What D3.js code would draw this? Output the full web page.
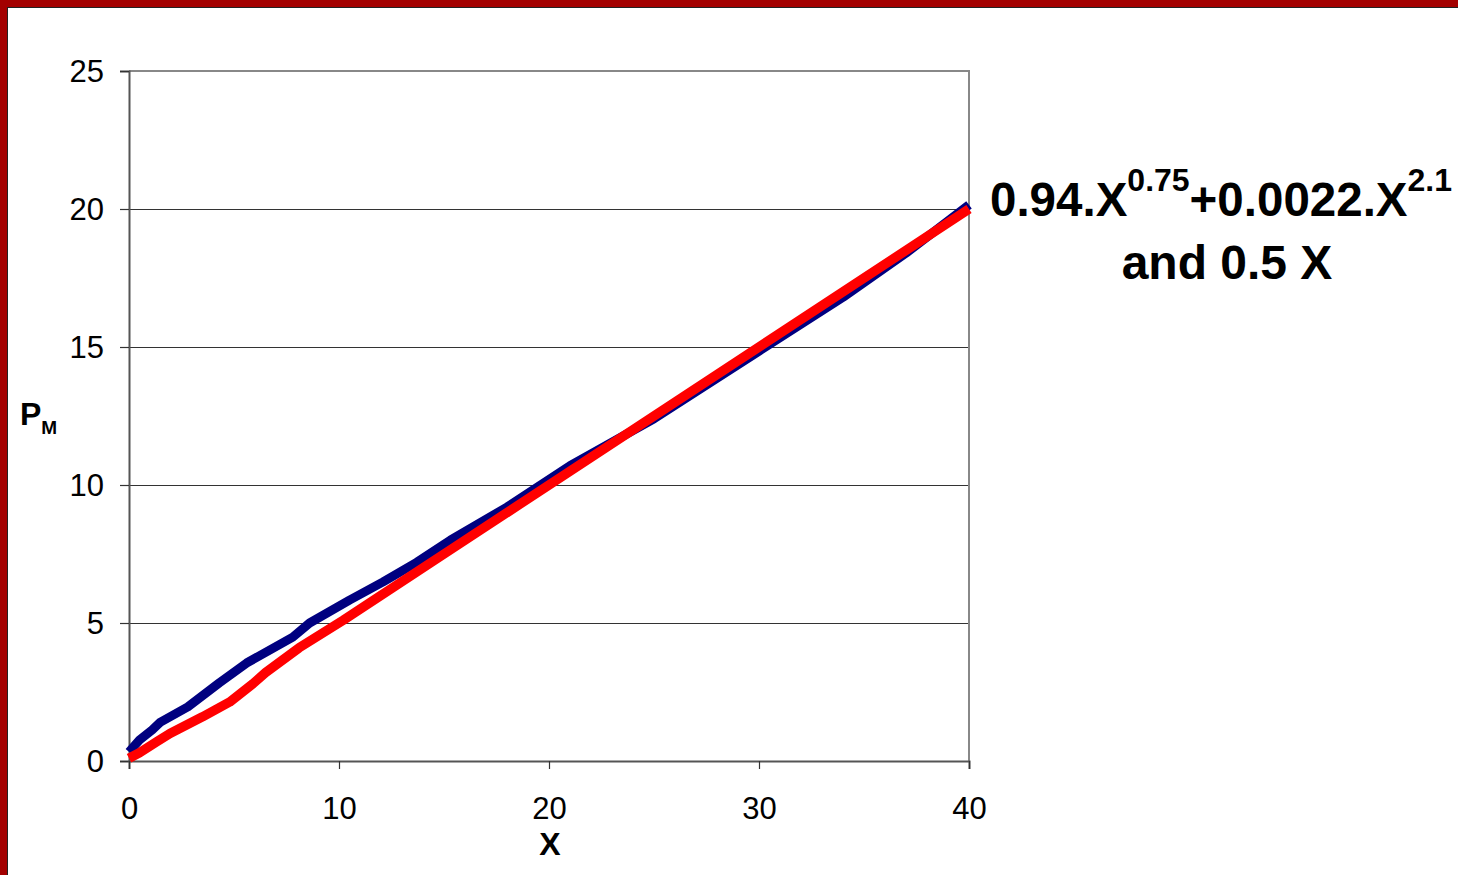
<!DOCTYPE html>
<html>
<head>
<meta charset="utf-8">
<script src="https://cdn.jsdelivr.net/npm/d3@7"></script>
<style>
  html, body { margin: 0; padding: 0; background: #fff; }
  svg { display: block; }
  text { font-family: "Liberation Sans", Arial, sans-serif; fill: #000; }
</style>
</head>
<body>
<svg id="chart" width="1458" height="875"></svg>
<script>
// Power-law model curve (blue)
const modelX = [0, 0.5, 1.1, 1.5, 2.8, 4.3, 5.6, 7.8, 8.6, 10.5, 12.1, 13.7, 15.3, 18, 21, 25, 30, 34, 37, 40];
const modelY = [0.33, 0.76, 1.12, 1.41, 1.96, 2.83, 3.55, 4.49, 5.0, 5.83, 6.49, 7.2, 8.0, 9.2, 10.7, 12.4, 14.85, 16.8, 18.4, 20.15];

// Linear curve 0.5 X (red)
const linearX = [0, 0.5, 1.3, 1.95, 3.5, 4.8, 5.9, 6.5, 8.1, 10.2, 12.1, 15.3, 20, 25, 30, 35, 40];
const linearY = [0.1, 0.3, 0.69, 1.0, 1.6, 2.14, 2.8, 3.2, 4.1, 5.1, 6.05, 7.65, 10, 12.5, 15, 17.5, 20];

const xTicks = [0, 10, 20, 30, 40];
const yTicks = [0, 5, 10, 15, 20, 25];

const svg = d3.select("#chart");
const W = 1458, H = 875;

// Slide frame: dark red bars along top and left
svg.append("rect").attr("x", 0).attr("y", 0).attr("width", W).attr("height", 7).attr("fill", "#a30000");
svg.append("rect").attr("x", 0).attr("y", 0).attr("width", 7).attr("height", H).attr("fill", "#a30000");
svg.append("line").attr("x1", 7).attr("x2", W).attr("y1", 7.5).attr("y2", 7.5).attr("stroke", "#222").attr("stroke-width", 1);
svg.append("line").attr("x1", 7.5).attr("x2", 7.5).attr("y1", 7).attr("y2", H).attr("stroke", "#222").attr("stroke-width", 1);

const plot = { left: 129, top: 71, right: 969, bottom: 761 };
const x = d3.scaleLinear().domain([0, 40]).range([plot.left, plot.right]);
const y = d3.scaleLinear().domain([0, 25]).range([plot.bottom, plot.top]);

// Horizontal gridlines
svg.append("g")
  .selectAll("line")
  .data(yTicks.filter(d => d > 0 && d < 25))
  .join("line")
  .attr("x1", plot.left).attr("x2", plot.right)
  .attr("y1", d => Math.round(y(d)) + 0.5).attr("y2", d => Math.round(y(d)) + 0.5)
  .attr("stroke", "#333").attr("stroke-width", 1.2);

// Plot frame (top and right edges)
svg.append("path")
  .attr("d", `M${plot.left},${plot.top}H${plot.right}V${plot.bottom}`)
  .attr("fill", "none").attr("stroke", "#888").attr("stroke-width", 2);

// Axes
const yAxis = d3.axisLeft(y).tickValues(yTicks).tickSize(9).tickPadding(16).tickFormat(d3.format("d"));
const xAxis = d3.axisBottom(x).tickValues(xTicks).tickSize(8).tickPadding(28).tickFormat(d3.format("d"));

const gy = svg.append("g").attr("transform", `translate(${plot.left},0)`).call(yAxis);
const gx = svg.append("g").attr("transform", `translate(0,${plot.bottom})`).call(xAxis);

[gx, gy].forEach(g => {
  g.select(".domain").attr("stroke", "#555").attr("stroke-width", 2);
  g.selectAll(".tick line").attr("stroke", "#333").attr("stroke-width", 1.2);
  g.selectAll(".tick text")
    .attr("font-family", "Liberation Sans, Arial, sans-serif")
    .attr("font-size", 31).attr("fill", "#000");
});
gy.selectAll(".tick text").attr("dy", "0.33em");

// Curves
const line = d3.line().x(d => x(d[0])).y(d => y(d[1])).curve(d3.curveLinear);
const modelPts = modelX.map((v, i) => [v, modelY[i]]);
const linearPts = linearX.map((v, i) => [v, linearY[i]]);

svg.append("path").datum(modelPts).attr("d", line)
  .attr("fill", "none").attr("stroke", "#000080").attr("stroke-width", 9)
  .attr("stroke-linejoin", "round");
svg.append("path").datum(linearPts).attr("d", line)
  .attr("fill", "none").attr("stroke", "#ff0000").attr("stroke-width", 9.5)
  .attr("stroke-linejoin", "round");

// Axis titles
svg.append("text").attr("x", 550).attr("y", 855)
  .attr("text-anchor", "middle").attr("font-weight", "bold").attr("font-size", 32).text("X");

const pm = svg.append("text").attr("x", 20).attr("y", 425).attr("font-weight", "bold").attr("font-size", 32);
pm.append("tspan").text("P");
pm.append("tspan").attr("font-size", 19).attr("dy", 9).text("M");

// Formula annotation
const f = svg.append("text").attr("x", 990).attr("y", 216).attr("font-weight", "bold").attr("font-size", 47.5);
f.append("tspan").text("0.94.X");
f.append("tspan").attr("font-size", 32).attr("dy", -25).text("0.75");
f.append("tspan").attr("dy", 25).text("+0.0022.X");
f.append("tspan").attr("font-size", 32).attr("dy", -25).text("2.1");

svg.append("text").attr("x", 1227).attr("y", 279).attr("text-anchor", "middle")
  .attr("font-weight", "bold").attr("font-size", 48).text("and 0.5 X");
</script>
</body>
</html>
